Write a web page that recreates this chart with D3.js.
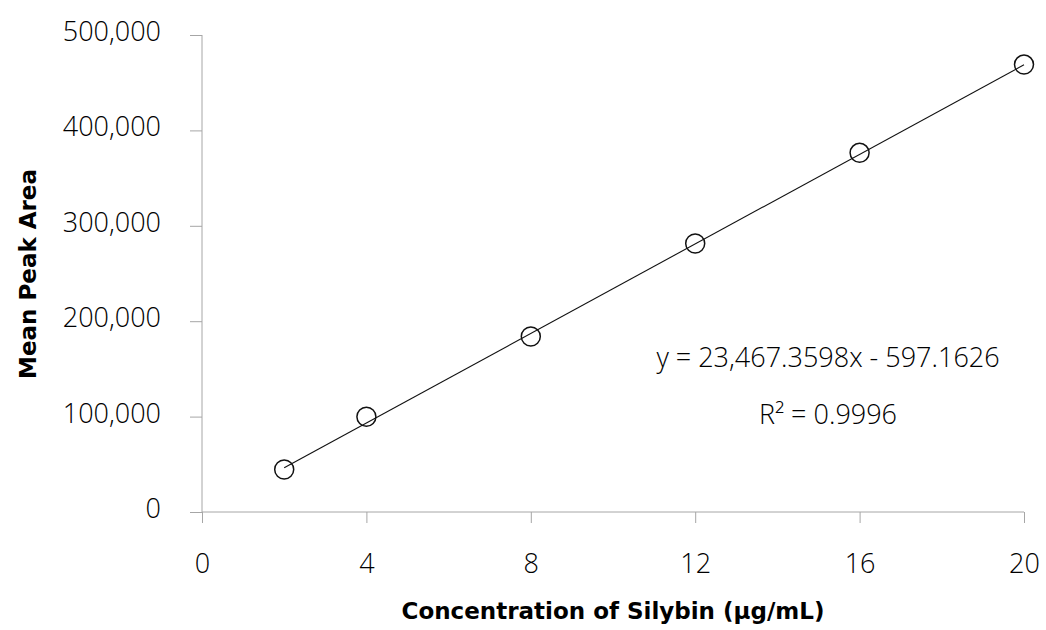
<!DOCTYPE html>
<html>
<head>
<meta charset="utf-8">
<script src="https://cdn.jsdelivr.net/npm/d3@7"></script>
<style>
  html, body { margin: 0; padding: 0; background: #ffffff; }
  svg { display: block; }
  .tick text { font-family: "Open Sans", "Noto Sans", sans-serif; font-size: 27px; font-weight: 300; fill: #000; }
  .axis-title { font-family: "DejaVu Sans", "Open Sans", sans-serif; font-size: 23px; font-weight: bold; fill: #000; }
  .eq { font-family: "Open Sans", "Noto Sans", sans-serif; font-size: 27px; font-weight: 300; fill: #000; }
</style>
</head>
<body>
<svg id="chart" width="1046" height="630"></svg>
<script>
// Calibration standards: concentration (µg/mL) and mean peak area
const concentrations = [2, 4, 8, 12, 16, 20];
const peakAreas = [44500, 99800, 184000, 281500, 376500, 469000];

// Linear regression reported for the calibration curve
const slope = 23467.3598;
const intercept = -597.1626;
const rSquared = 0.9996;

const xTicks = [0, 4, 8, 12, 16, 20];
const yTicks = [0, 100000, 200000, 300000, 400000, 500000];

const svg = d3.select("#chart");
const margin = { left: 202, right: 22, top: 35, bottom: 118 };
const width = 1046, height = 630;

const x = d3.scaleLinear().domain([0, 20]).range([margin.left, width - margin.right]);
const y = d3.scaleLinear().domain([0, 500000]).range([height - margin.bottom, margin.top]);

const axisColor = "#a6a6a6";

// Y axis
const yAxis = svg.append("g")
  .attr("transform", `translate(${margin.left},0)`)
  .call(d3.axisLeft(y).tickValues(yTicks).tickFormat(d3.format(",")).tickSize(12).tickPadding(29));
yAxis.select(".domain").attr("stroke", axisColor).attr("d", `M0,${y(500000)}V${y(0)}`);
yAxis.selectAll(".tick line").attr("stroke", axisColor);
yAxis.selectAll(".tick text").attr("dy", "0.2em");

// X axis
const xAxis = svg.append("g")
  .attr("transform", `translate(0,${y(0)})`)
  .call(d3.axisBottom(x).tickValues(xTicks).tickSize(11).tickPadding(31));
xAxis.select(".domain").attr("stroke", axisColor).attr("d", `M${x(0)},0H${x(20)}`);
xAxis.selectAll(".tick line").attr("stroke", axisColor);

// Fitted regression line across the measured range
const xMin = d3.min(concentrations), xMax = d3.max(concentrations);
svg.append("line")
  .attr("x1", x(xMin)).attr("y1", y(slope * xMin + intercept))
  .attr("x2", x(xMax)).attr("y2", y(slope * xMax + intercept))
  .attr("stroke", "#111").attr("stroke-width", 1.1);

// Measured points as open circles
svg.append("g").selectAll("circle")
  .data(concentrations.map((c, i) => ({ c, a: peakAreas[i] })))
  .join("circle")
  .attr("cx", d => x(d.c))
  .attr("cy", d => y(d.a))
  .attr("r", 9.5)
  .attr("fill", "none")
  .attr("stroke", "#111")
  .attr("stroke-width", 1.5);

// Regression equation and coefficient of determination
const fmtSlope = d3.format(",.4f");
svg.append("text").attr("class", "eq")
  .attr("x", 828).attr("y", 367).attr("text-anchor", "middle")
  .text(`y = ${fmtSlope(slope)}x - ${Math.abs(intercept).toFixed(4)}`);
svg.append("text").attr("class", "eq")
  .attr("x", 828).attr("y", 424).attr("text-anchor", "middle")
  .text(`R² = ${rSquared.toFixed(4)}`);

// Axis titles
svg.append("text").attr("class", "axis-title")
  .attr("x", 613).attr("y", 619).attr("text-anchor", "middle")
  .text("Concentration of Silybin (µg/mL)");
svg.append("text").attr("class", "axis-title")
  .attr("transform", `translate(36,${274}) rotate(-90)`)
  .attr("text-anchor", "middle")
  .text("Mean Peak Area");
</script>
</body>
</html>
